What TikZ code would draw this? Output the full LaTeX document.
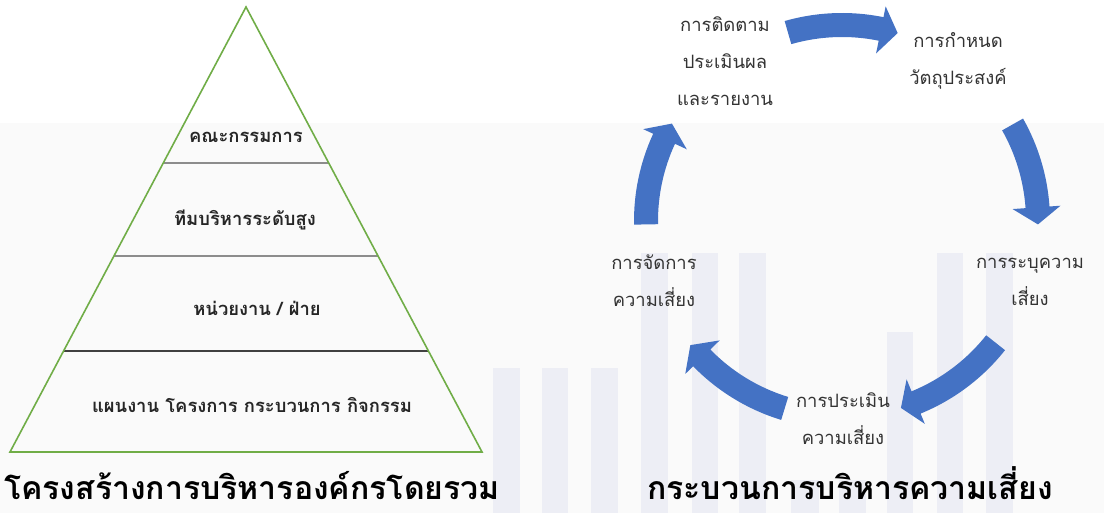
\documentclass[tikz,border=0pt]{standalone}
\usepackage{fontspec}
\newfontfamily\thai[Script=Thai]{Loma}
\usetikzlibrary{calc}
\definecolor{tri}{HTML}{70AD47}
\definecolor{band}{HTML}{FAFAFA}
\definecolor{barcol}{HTML}{EDEEF5}
\definecolor{arrowblue}{HTML}{4472C4}
\definecolor{labcol}{HTML}{333333}
\definecolor{pyrtext}{HTML}{262626}
\tikzset{
  barshape/.style={fill=barcol},
  pyrlabel/.style={font=\thai\bfseries\fontsize{18.4}{21}\selectfont, text=pyrtext, inner sep=0pt},
  cyclabel/.style={font=\thai\fontsize{18.4}{37}\selectfont, text=labcol, align=center, inner sep=0pt},
  titlelabel/.style={font=\thai\bfseries\fontsize{32}{36}\selectfont, text=black, inner sep=0pt, anchor=base},
  levelline/.style={draw=gray!90, line width=2pt},
  cyclearrow/.style={fill=arrowblue}
}
\newcommand\blockarc[3]{%
  \fill[cyclearrow] (#1:208pt) arc[start angle=#1, end angle=#2, radius=208pt]
    -- (#2:219pt) -- (#3:196pt) -- (#2:171pt) -- (#2:184pt)
    arc[start angle=#2, end angle=#1, radius=184pt] -- cycle;}
\begin{document}
\begin{tikzpicture}[x=1pt,y=1pt]
\useasboundingbox (0,0) rectangle (1104,513);
\fill[white] (0,0) rectangle (1104,513);
\fill[band] (0,0) rectangle (1104,390);
% background bars
\fill[barshape] (493,0) rectangle (520,145);
\fill[barshape] (542,0) rectangle (568,145);
\fill[barshape] (591,0) rectangle (618,145);
\fill[barshape] (641,0) rectangle (668,260);
\fill[barshape] (692,0) rectangle (718,260);
\fill[barshape] (739,0) rectangle (766,260);
\fill[barshape] (791,0) rectangle (819,33);
\fill[barshape] (839,0) rectangle (866,33);
\fill[barshape] (887,0) rectangle (913,181);
\fill[barshape] (937,0) rectangle (963,260);
\fill[barshape] (986,0) rectangle (1013,260);
% pyramid
\coordinate (apex) at (246,506);
\coordinate (bl) at (10,61);
\coordinate (br) at (482,61);
\draw[levelline] ($(apex)!0.3506!(bl)$) -- ($(apex)!0.3506!(br)$);
\draw[levelline] ($(apex)!0.5596!(bl)$) -- ($(apex)!0.5596!(br)$);
\draw[draw=black!75, line width=1.5pt] ($(apex)!0.773!(bl)$) -- ($(apex)!0.773!(br)$);
\draw[tri, line width=1.6pt, line join=miter] (apex) -- (bl) -- (br) -- cycle;
\node[pyrlabel] (p1) at (246,376) {คณะกรรมการ};
\node[pyrlabel] (p2) at (245,293) {ทีมบริหารระดับสูง};
\node[pyrlabel] (p3) at (257,205) {หน่วยงาน / ฝ่าย};
\node[pyrlabel] (p4) at (252,108) {แผนงาน โครงการ กระบวนการ กิจกรรม};
\node[titlelabel] (t1) at (252,13) {โครงสร้างการบริหารองค์กรโดยรวม};
% cycle
\node[cyclabel] (c1) at (725,452) {การติดตาม\\ประเมินผล\\และรายงาน};
\node[cyclabel] (c2) at (958,452) {การกำหนด\\วัตถุประสงค์};
\node[cyclabel] (c3) at (1030,231) {การระบุความ\\เสี่ยง};
\node[cyclabel] (c4) at (843,94) {การประเมิน\\ความเสี่ยง};
\node[cyclabel] (c5) at (654,232) {การจัดการ\\ความเสี่ยง};
\begin{scope}[shift={(842,292)}]
\blockarc{106}{78.5}{73.5}
\blockarc{29.5}{4}{-1}
\blockarc{-38.4}{-67.8}{-72.5}
\blockarc{-107}{-135.7}{-140.7}
\blockarc{181}{155.2}{150.2}
\end{scope}
\node[titlelabel] (t2) at (850,13) {กระบวนการบริหารความเสี่ยง};
\end{tikzpicture}
\end{document}
